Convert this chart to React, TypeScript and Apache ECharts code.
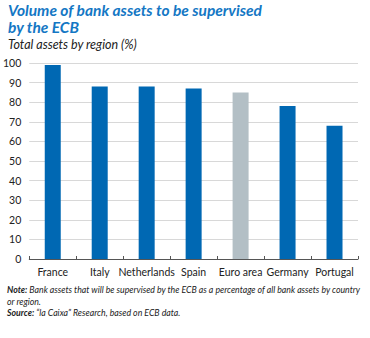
import React, { useEffect, useRef } from "react";
import * as echarts from "echarts";

const categories = ["France", "Italy", "Netherlands", "Spain", "Euro area", "Germany", "Portugal"];
const values = [99, 88, 88, 87, 85, 78, 68];
const highlight = "Euro area";
const yTicks = { min: 0, max: 100, interval: 10 };

const FONT = "Lato, 'Open Sans', sans-serif";
const BLUE = "#0068b3";
const GREY = "#b3bfc5";

export default function App() {
  const ref = useRef<HTMLDivElement>(null);
  useEffect(() => {
    document.body.style.margin = "0";
    const chart = echarts.init(ref.current!, null, { renderer: "svg" });
    const titleStyle = {
      fontSize: 15.5,
      fontWeight: "bold",
      fontStyle: "italic",
      fontFamily: FONT,
      fill: "#1477c4",
    };
    chart.setOption({
      animation: false,
      backgroundColor: "#ffffff",
      grid: { left: 28, right: 12, top: 63, bottom: 79 },
      xAxis: {
        type: "category",
        data: categories,
        axisLine: { lineStyle: { color: "#555", width: 1 } },
        axisTick: { show: true, inside: true, length: 3, lineStyle: { color: "#555" } },
        axisLabel: { color: "#222", fontSize: 10.5, fontFamily: FONT, margin: 7, interval: 0 },
      },
      yAxis: {
        type: "value",
        min: yTicks.min,
        max: yTicks.max,
        interval: yTicks.interval,
        axisLine: { show: false },
        axisTick: { show: false },
        splitLine: { lineStyle: { color: "#d8d8d8", width: 1 } },
        axisLabel: { color: "#222", fontSize: 10.5, fontFamily: FONT, margin: 8 },
      },
      series: [
        {
          type: "bar",
          barWidth: 16,
          data: values.map((v, i) => ({
            value: v,
            itemStyle: { color: categories[i] === highlight ? GREY : BLUE },
          })),
        },
      ],
      graphic: [
        { type: "text", left: 8, top: 2, style: { ...titleStyle, text: "Volume of bank assets to be supervised" } },
        { type: "text", left: 8, top: 19, style: { ...titleStyle, text: "by the ECB" } },
        {
          type: "text",
          left: 8,
          top: 38,
          style: {
            text: "Total assets by region (%)",
            fontSize: 12.5,
            fontStyle: "italic",
            fontFamily: FONT,
            fill: "#222",
          },
        },
        {
          type: "text",
          left: 7,
          top: 284,
          style: {
            text:
              "{b|Note:} Bank assets that will be supervised by the ECB as a percentage of all bank assets by country\nor region.\n{b|Source:} “la Caixa” Research, based on ECB data.",
            fontSize: 8.75,
            fontStyle: "italic",
            fontFamily: FONT,
            fill: "#222",
            lineHeight: 11.5,
            rich: {
              b: { fontWeight: "bold", fontStyle: "italic", fontSize: 8.75, fontFamily: FONT, fill: "#222" },
            },
          },
        },
      ],
    });
    return () => chart.dispose();
  }, []);
  return <div ref={ref} style={{ width: 370, height: 338 }} />;
}
